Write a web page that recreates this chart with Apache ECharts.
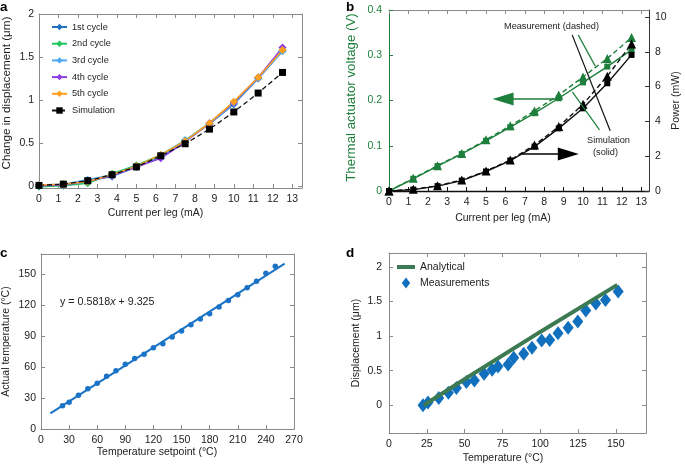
<!DOCTYPE html>
<html><head><meta charset="utf-8">
<script src="https://cdn.jsdelivr.net/npm/echarts@6/dist/echarts.min.js"></script>
<style>html,body{margin:0;padding:0;background:#fff}#c{width:685px;height:465px}</style>
</head><body><div id="c"></div>
<script>
// ---------- DATA ----------
// Panel a
const currentA = [0, 1.25, 2.5, 3.75, 5, 6.25, 7.5, 8.75, 10, 11.25, 12.5];
const cycle1 = [0.00, 0.01, 0.06, 0.11, 0.22, 0.34, 0.52, 0.72, 0.95, 1.25, 1.57];
const cycle2 = [-0.01, 0.00, 0.03, 0.14, 0.24, 0.36, 0.53, 0.73, 0.97, 1.26, 1.58];
const cycle3 = [0.01, 0.02, 0.07, 0.13, 0.23, 0.35, 0.53, 0.72, 0.96, 1.25, 1.57];
const cycle4 = [0.00, 0.01, 0.05, 0.12, 0.22, 0.32, 0.51, 0.73, 0.97, 1.26, 1.61];
const cycle5 = [0.01, 0.02, 0.05, 0.13, 0.23, 0.36, 0.52, 0.73, 0.98, 1.26, 1.58];
const simA   = [0.005, 0.02, 0.06, 0.13, 0.22, 0.35, 0.49, 0.66, 0.86, 1.08, 1.32];
const cycleNames = ['1st cycle', '2nd cycle', '3rd cycle', '4th cycle', '5th cycle'];
// Panel b
const currentB = [0, 1.25, 2.5, 3.75, 5, 6.25, 7.5, 8.75, 10, 11.25, 12.5];
const voltMeas = [0, 0.028, 0.056, 0.083, 0.113, 0.144, 0.177, 0.212, 0.252, 0.293, 0.339];
const voltSim  = [0, 0.027, 0.055, 0.082, 0.111, 0.141, 0.172, 0.205, 0.240, 0.275, 0.312];
const powMeas  = [0, 0.10, 0.30, 0.63, 1.15, 1.78, 2.64, 3.70, 4.98, 6.60, 8.45];
const powSim   = [0, 0.08, 0.28, 0.60, 1.12, 1.75, 2.55, 3.60, 4.75, 6.19, 7.82];
// Panel c
const setpoint = [23, 30, 40, 50, 60, 70, 80, 90, 100, 110, 120, 130, 140, 150, 160, 170, 180, 190, 200, 210, 220, 230, 240, 250];
const actualT  = [22.6, 26.1, 32.9, 39.0, 44.5, 51.3, 56.5, 62.9, 68.4, 72.6, 79.0, 82.9, 89.4, 95.2, 101.3, 106.8, 111.9, 118.4, 124.8, 130.3, 137.1, 143.5, 151.3, 158.1];
const fitX = [10, 260];
const fitSlope = 0.5818, fitIntercept = 9.325;
// Panel d
const tempD = [22.5, 25.8, 32.9, 39.3, 44.6, 51.2, 56.5, 62.9, 68.2, 72.1, 78.8, 82.5, 89.1, 94.6, 101.0, 106.3, 111.8, 118.5, 124.9, 130.2, 136.8, 143.2, 151.6];
const dispD = [0.00, 0.04, 0.105, 0.18, 0.25, 0.335, 0.36, 0.455, 0.513, 0.561, 0.59, 0.686, 0.743, 0.83, 0.935, 0.945, 1.04, 1.12, 1.21, 1.37, 1.47, 1.52, 1.645];
const analyticalT = [23, 51, 100, 151];
const analyticalD = [0.0, 0.39, 1.06, 1.74];
// Tick labels
const ticksA_x = [0,1,2,3,4,5,6,7,8,9,10,11,12,13];
const ticksA_y = [0, 0.5, 1, 1.5, 2];
const ticksB_x = [0,1,2,3,4,5,6,7,8,9,10,11,12,13];
const ticksB_yL = [0, 0.1, 0.2, 0.3, 0.4];
const ticksB_yR = [0, 2, 4, 6, 8, 10];
const ticksC_x = [0,30,60,90,120,150,180,210,240,270];
const ticksC_y = [0,30,60,90,120,150];
const ticksD_x = [0,25,50,75,100,125,150];
const ticksD_y = [0,0.5,1,1.5,2];

// ---------- STYLE ----------
const FONT = "'Liberation Sans', Arial, Helvetica, sans-serif";
const GRAY = '#8a8a8a';
const GREEN = '#1e7f3c';
const cycleColors = ['#1f6fc0', '#22c55e', '#4ea8f5', '#8a3ee6', '#ff9f1c'];

function zip(xs, ys) { return xs.map((x, i) => [x, ys[i]]); }

function makeAxis(grid, min, max, ticks, o) {
  o = o || {};
  const lineColor = o.lineColor || GRAY;
  return {
    type: 'value', gridIndex: grid, position: o.position, min: min, max: max,
    name: o.name || '', nameLocation: 'middle', nameGap: o.nameGap || 20,
    nameTextStyle: { fontFamily: FONT, fontSize: o.nameSize || 10.5, color: o.nameColor || '#222',
      padding: o.namePad || 0 },
    axisLine: { show: true, onZero: false, lineStyle: { color: lineColor, width: o.lineWidth || 1 } },
    axisTick: { show: true, inside: true, length: 4, customValues: ticks, lineStyle: { color: o.tickColor || lineColor } },
    axisLabel: { show: !!o.labels, customValues: ticks, margin: o.margin || 6,
      fontFamily: FONT, fontSize: 10.5, color: o.labelColor || '#222',
      formatter: v => String(+v.toFixed(3)) },
    splitLine: { show: false },
    minorTick: { show: false }
  };
}

const xAxes = [
  makeAxis(0, 0, 13.5, ticksA_x, { position: 'bottom', labels: true, name: 'Current per leg (mA)', nameGap: 20, namePad: [0, 30, 0, 0] }),
  makeAxis(0, 0, 13.5, ticksA_x, { position: 'top' }),
  makeAxis(1, 0, 13.4, ticksB_x, { position: 'bottom', labels: true, name: 'Current per leg (mA)', nameGap: 22, namePad: [0, 32, 0, 0], lineColor: '#111', lineWidth: 1.3 }),
  makeAxis(1, 0, 13.4, ticksB_x, { position: 'top' }),
  makeAxis(2, 0, 270, ticksC_x, { position: 'bottom', labels: true, name: 'Temperature setpoint (°C)', nameGap: 17, namePad: [0, 21, 0, 0] }),
  makeAxis(2, 0, 270, ticksC_x, { position: 'top' }),
  makeAxis(3, 0, 170, ticksD_x, { position: 'bottom', labels: true, name: 'Temperature (°C)', nameGap: 20, namePad: [0, 29, 0, 0] }),
  makeAxis(3, 0, 170, ticksD_x, { position: 'top' })
];
const yAxes = [
  makeAxis(0, -0.025, 2, ticksA_y, { position: 'left', labels: true, name: 'Change in displacement (μm)', nameSize: 11.7, nameGap: 26, namePad: [0, 0, 0, 16], margin: 5 }),
  makeAxis(0, -0.025, 2, ticksA_y, { position: 'right' }),
  makeAxis(1, 0, 0.4, ticksB_yL, { position: 'left', labels: true, name: 'Thermal actuator voltage (V)', nameSize: 13.3, nameGap: 31, namePad: [0, 0, 0, 6], lineColor: GREEN, labelColor: GREEN, nameColor: GREEN, margin: 7 }),
  makeAxis(1, 0, 10.4, ticksB_yR, { position: 'right', labels: true, name: 'Power (mW)', nameGap: 16, lineColor: '#333', margin: 6 }),
  makeAxis(2, 0, 170, ticksC_y, { position: 'left', labels: true, name: 'Actual temperature (°C)', nameGap: 29, margin: 5 }),
  makeAxis(2, 0, 170, ticksC_y, { position: 'right' }),
  makeAxis(3, -0.4, 2.2, ticksD_y, { position: 'left', labels: true, name: 'Displacement (μm)', nameGap: 27, margin: 7 }),
  makeAxis(3, -0.4, 2.2, ticksD_y, { position: 'right' })
];

const series = [];
// Panel a
[cycle1, cycle2, cycle3, cycle4, cycle5].forEach((arr, i) => {
  series.push({
    type: 'line', name: cycleNames[i], xAxisIndex: 0, yAxisIndex: 0,
    data: zip(currentA, arr), symbol: 'diamond', symbolSize: 8,
    lineStyle: { color: cycleColors[i], width: 1.5 }, itemStyle: { color: cycleColors[i] },
    animation: false
  });
});
series.push({
  type: 'line', name: 'Simulation', xAxisIndex: 0, yAxisIndex: 0,
  data: zip(currentA, simA), symbol: 'rect', symbolSize: 7,
  lineStyle: { color: '#111', width: 1.3, type: [5, 3] }, itemStyle: { color: '#000' },
  animation: false
});

// Panel b
series.push({
  type: 'line', name: 'voltSim', xAxisIndex: 2, yAxisIndex: 2,
  data: zip(currentB, voltSim), symbol: 'rect', symbolSize: 6,
  lineStyle: { color: GREEN, width: 1.4 }, itemStyle: { color: GREEN }, animation: false,
  markLine: {
    silent: true, animation: false, label: { show: false },
    data: [
      // annotation leaders
      [{ coord: [9.44, 0.345], symbol: 'none', lineStyle: { color: '#111', width: 1.2, type: 'solid' } }, { coord: [11.40, 0.133], symbol: 'none' }],
      [{ coord: [9.75, 0.345], symbol: 'none', lineStyle: { color: GREEN, width: 1.2, type: 'solid' } }, { coord: [10.63, 0.276], symbol: 'none' }],
      [{ coord: [9.45, 0.219], symbol: 'none', lineStyle: { color: GREEN, width: 1.2, type: 'solid' } }, { coord: [10.85, 0.135], symbol: 'none' }],
      // direction arrows
      [{ coord: [8.82, 0.2035], symbol: 'none', lineStyle: { color: GREEN, width: 1.6, type: 'solid' } }, { coord: [5.88, 0.2035], symbol: 'triangle', symbolSize: [13, 21] }],
      [{ coord: [6.85, 0.0819], symbol: 'none', lineStyle: { color: '#000', width: 1.6, type: 'solid' } }, { coord: [9.24, 0.0819], symbol: 'triangle', symbolSize: [13, 21] }]
    ].map(pair => { pair[1].lineStyle = pair[0].lineStyle; pair[1].itemStyle = { color: pair[0].lineStyle.color }; pair[0].itemStyle = { color: pair[0].lineStyle.color }; return pair; })
  }
});
series.push({
  type: 'line', name: 'voltMeas', xAxisIndex: 2, yAxisIndex: 2,
  data: zip(currentB, voltMeas), symbol: 'triangle', symbolSize: 9,
  lineStyle: { color: GREEN, width: 1.4, type: [5, 3] }, itemStyle: { color: GREEN }, animation: false
});
series.push({
  type: 'line', name: 'powSim', xAxisIndex: 2, yAxisIndex: 3,
  data: zip(currentB, powSim), symbol: 'rect', symbolSize: 6,
  lineStyle: { color: '#111', width: 1.4 }, itemStyle: { color: '#000' }, animation: false
});
series.push({
  type: 'line', name: 'powMeas', xAxisIndex: 2, yAxisIndex: 3,
  data: zip(currentB, powMeas), symbol: 'triangle', symbolSize: 9,
  lineStyle: { color: '#111', width: 1.4, type: [5, 3] }, itemStyle: { color: '#000' }, animation: false
});

// Panel c
const CBLUE = '#1a73c6';
series.push({
  type: 'line', name: 'fit', xAxisIndex: 4, yAxisIndex: 4,
  data: fitX.map(x => [x, fitSlope * x + fitIntercept]), showSymbol: false, symbol: 'none',
  lineStyle: { color: CBLUE, width: 2 }, animation: false
});
series.push({
  type: 'scatter', name: 'meas', xAxisIndex: 4, yAxisIndex: 4,
  data: zip(setpoint, actualT), symbol: 'circle', symbolSize: 5.5,
  itemStyle: { color: CBLUE, opacity: 1 }, animation: false
});

// Panel d
const DBLUE = '#1170bd';
const DGREEN = '#3b7a52';
series.push({
  type: 'line', name: 'Analytical', xAxisIndex: 6, yAxisIndex: 6,
  data: zip(analyticalT, analyticalD), symbol: 'none', showSymbol: false,
  lineStyle: { color: DGREEN, width: 4 }, itemStyle: { color: DGREEN }, animation: false
});
series.push({
  type: 'scatter', name: 'Measurements', xAxisIndex: 6, yAxisIndex: 6,
  data: zip(tempD, dispD), symbol: 'diamond', symbolSize: [11, 14],
  itemStyle: { color: DBLUE, opacity: 1 }, animation: false
});

const txt = (x, y, s, o) => Object.assign({ type: 'text', left: x, top: y, silent: true,
  style: Object.assign({ text: s, fontFamily: FONT, fontSize: 10.5, fill: '#222' }, o || {}) });

const option = {
  backgroundColor: '#fff',
  animation: false,
  grid: [
    { left: 38, top: 14, width: 264, height: 174 },
    { left: 389, top: 10, width: 260, height: 181 },
    { left: 41, top: 254, width: 253, height: 175 },
    { left: 389, top: 253, width: 257, height: 180 }
  ],
  xAxis: xAxes,
  yAxis: yAxes,
  legend: [
    {
      data: cycleNames.concat(['Simulation']), orient: 'vertical', left: 51, top: 22, padding: 0,
      itemWidth: 15, itemHeight: 8, itemGap: 6.7, selectedMode: false,
      textStyle: { fontFamily: FONT, fontSize: 9.2, color: '#222', lineHeight: 10 }
    },
    {
      data: [
        { name: 'Analytical', icon: 'path://M0,0L18,0L18,4L0,4Z' },
        { name: 'Measurements', icon: 'path://M5,0L10,6.5L5,13L0,6.5Z' }
      ],
      orient: 'vertical', left: 397, top: 261.5, padding: 0,
      itemWidth: 18, itemHeight: 11, itemGap: 5, selectedMode: false,
      textStyle: { fontFamily: FONT, fontSize: 10.5, color: '#222', lineHeight: 11 }
    }
  ],
  series: series,
  graphic: [
    txt(0, 0, 'a', { fontWeight: 'bold', fontSize: 13.5, fill: '#000' }),
    txt(346, 0, 'b', { fontWeight: 'bold', fontSize: 13.5, fill: '#000' }),
    txt(0, 246, 'c', { fontWeight: 'bold', fontSize: 13.5, fill: '#000' }),
    txt(346, 246, 'd', { fontWeight: 'bold', fontSize: 13.5, fill: '#000' }),
    { type: 'text', left: 60, top: 297, silent: true,
      style: { rich: { n: { fontFamily: FONT, fontSize: 10.7, fill: '#222' }, i: { fontFamily: FONT, fontSize: 10.7, fontStyle: 'italic', fill: '#222' } },
        text: '{n|y = 0.5818}{i|x}{n| + 9.325}' } },
    txt(504, 22, 'Measurement (dashed)', { fontSize: 9.2 }),
    txt(587, 136, 'Simulation', { fontSize: 9.2 }),
    txt(593, 148, '(solid)', { fontSize: 9.2 })
  ]
};

const chart = echarts.init(document.getElementById('c'), null, { renderer: 'canvas' });
chart.setOption(option);
</script></body></html>
